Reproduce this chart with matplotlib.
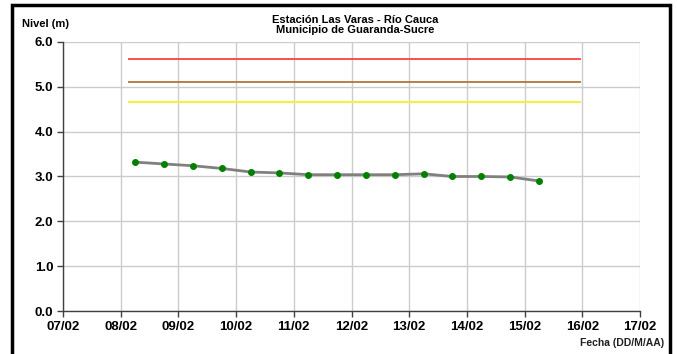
import matplotlib
matplotlib.use("Agg")
import matplotlib.pyplot as plt
from matplotlib.patches import Rectangle

plt.rcParams['font.family'] = ['Liberation Sans', 'DejaVu Sans']

# days in February (fractional = time of the reading)
days = [8.25, 8.75, 9.25, 9.75, 10.25, 10.75, 11.25, 11.75,
        12.25, 12.75, 13.25, 13.75, 14.25, 14.75, 15.25]
nivel = [3.32, 3.28, 3.24, 3.18, 3.10, 3.08, 3.04, 3.04,
         3.04, 3.04, 3.06, 3.00, 3.00, 2.99, 2.90]

# alert thresholds
umbral_rojo = 5.61
umbral_naranja = 5.10
umbral_amarillo = 4.66
umbral_desde, umbral_hasta = 8.12, 15.97

tick_days = list(range(7, 18))
tick_labels = [f"{d:02d}/02" for d in tick_days]

fig = plt.figure(figsize=(6.77, 3.54), dpi=100)
ax = fig.add_axes([63 / 677, 1 - 311 / 354, (640 - 63) / 677, (311 - 42) / 354])

ax.hlines(umbral_rojo, umbral_desde, umbral_hasta, color='#ff4040', lw=1.3)
ax.hlines(umbral_naranja, umbral_desde, umbral_hasta, color='#b07838', lw=1.3)
ax.hlines(umbral_amarillo, umbral_desde, umbral_hasta, color='#f8f040', lw=1.5)

ax.plot(days, nivel, color='#808080', lw=2, zorder=3)
ax.plot(days, nivel, 'o', color='#008000', ms=4, zorder=4)

ax.set_xlim(7, 17)
ax.set_ylim(0, 6)
ax.set_xticks(tick_days)
ax.set_xticklabels(tick_labels)
ax.set_yticks([0, 1, 2, 3, 4, 5, 6])
ax.set_yticklabels([f"{v:.1f}" for v in range(7)])
ax.grid(True, color='#cccccc', lw=1)
ax.set_axisbelow(True)
for s in ['top', 'right']:
    ax.spines[s].set_visible(False)
for s in ['left', 'bottom']:
    ax.spines[s].set_color('#404040')
    ax.spines[s].set_linewidth(1)
ax.tick_params(direction='out', length=4, width=1, color='#404040',
               labelsize=9.5, pad=3)
for lab in ax.get_xticklabels() + ax.get_yticklabels():
    lab.set_fontweight('bold')

fig.text(355 / 677, 1 - 25 / 354, "Estación Las Varas - Río Cauca\nMunicipio de Guaranda-Sucre",
         ha='center', va='center', fontsize=8, fontweight='bold', linespacing=1.0)
fig.text(22 / 677, 1 - 24 / 354, "Nivel (m)", ha='left', va='center',
         fontsize=8, fontweight='bold')
fig.text(664 / 677, 1 - 343 / 354, "Fecha (DD/M/AA)", ha='right', va='center',
         fontsize=7.5, fontweight='bold', color='#202020')

# chart-area frame
fig.add_artist(Rectangle((12 / 677, -0.02), (670 - 12) / 677, 1.02 - 5 / 354,
                         transform=fig.transFigure, fill=False, ec='black', lw=2.5))

fig.savefig("out.png", dpi=100)
